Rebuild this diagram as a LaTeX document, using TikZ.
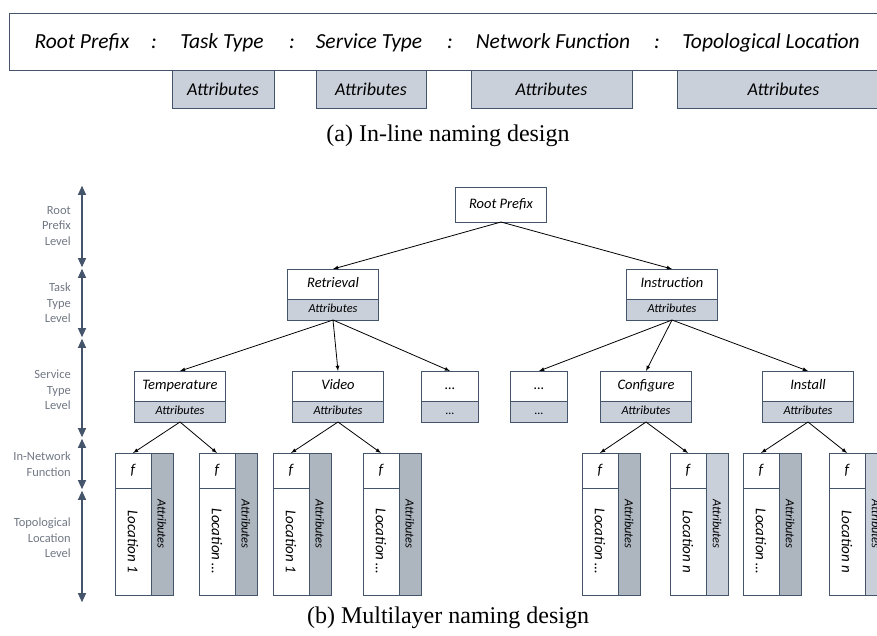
\documentclass[tikz,border=0pt]{standalone}
\usepackage{fontspec}
\usepackage{graphicx}
\setmainfont{Liberation Serif}
\newfontfamily\calfont{Carlito}
\usepackage{tikz}
\usetikzlibrary{arrows,arrows.meta,positioning}

\definecolor{edge}{RGB}{68,84,106}
\definecolor{attrlight}{RGB}{201,208,218}
\definecolor{attrdark}{RGB}{173,181,191}
\definecolor{levelgray}{RGB}{112,120,132}

\begin{document}
\begin{tikzpicture}[x=1pt, y=-1pt]
			\tikzstyle{Box}		= [draw=edge, fill=white, line width=1pt, inner sep=0pt, outer sep=0pt]
			\tikzstyle{Field}	= [inner sep=0pt, text height=14pt, text depth=4pt, font=\calfont\itshape\fontsize{21.5}{25}\selectfont]
			\tikzstyle{TopAttr}	= [Box, fill=attrlight, anchor=north west, minimum height=38, font=\calfont\itshape\fontsize{18}{21}\selectfont]
			\tikzstyle{Name}	= [Box, minimum width=91, minimum height=30, text height=10pt, text depth=3pt, font=\calfont\itshape\fontsize{14.5}{17}\selectfont]
			\tikzstyle{Attr}	= [Box, fill=attrlight, minimum width=91, minimum height=21, text height=8pt, text depth=2.5pt, font=\calfont\itshape\fontsize{12.3}{14}\selectfont]
			\tikzstyle{Fbox}	= [Box, minimum width=36, minimum height=35, font=\calfont\itshape\fontsize{15}{17}\selectfont]
			\tikzstyle{Loc}		= [Box, minimum width=36, minimum height=107, font=\calfont\itshape\fontsize{15}{17}\selectfont]
			\tikzstyle{Strip}	= [Box, minimum width=22, minimum height=142, font=\calfont\itshape\fontsize{12.4}{14}\selectfont]
			\tikzstyle{Link}	= [-latex, line width=0.8pt, black]
			\tikzstyle{Axis}	= [{Triangle[length=9pt,width=8pt]}-{Triangle[length=9pt,width=8pt]}, line width=1.1pt, edge]
			\tikzstyle{Level}	= [anchor=east, align=right, inner sep=0pt, text=levelgray, font=\calfont\fontsize{12.5}{15.5}\selectfont]
			\tikzstyle{Caption}	= [inner sep=0pt, font=\fontsize{24}{28}\selectfont]

			\useasboundingbox (0,0) rectangle (877,635);

			% (a) in-line name
			\node (inline) at (9,13) [Box, anchor=north west, minimum width=885, minimum height=57] {};
			\foreach \x/\t in {82/Root Prefix, 222/Task Type, 369/Service Type, 553/Network Function, 771/Topological Location}
				\node (fld\x) at (\x,43) [Field] {\t};
			\foreach \x in {154, 292, 450, 657}
				\node (col\x) at (\x,43) [Field] {:};
			\foreach \l/\r [count=\i] in {172/274, 316/426, 471/632, 677/890}
				\node (ia\i) at (\l,70) [TopAttr, minimum width=\r-\l] {Attributes};
			\node (capa) at (448,136) [Caption] {(a) In-line naming design};

			% (b) levels
			\foreach \i/\y in {0/185, 1/268, 2/338, 3/438, 4/490, 5/603}
				\coordinate (lv\i) at (82,\y);
			\foreach \a/\b in {0/1, 1/2, 2/3, 3/4, 4/5}
				\draw [Axis, shorten <=0.8pt, shorten >=0.8pt] (lv\a) -- (lv\b);
			\foreach \y/\t in {226/Root\\Prefix\\Level, 303/Task\\Type\\Level, 390/Service\\Type\\Level, 464/In-Network\\Function, 538/Topological\\Location\\Level}
				\node (lab\y) at (71,\y) [Level] {\t};

			% (b) tree
			\node (root) at (501,187) [Box, anchor=north, minimum width=91, minimum height=35, font=\calfont\itshape\fontsize{14.5}{17}\selectfont] {Root Prefix};
			\foreach \n/\x/\t in {ret/333/Retrieval, ins/672/Instruction} {
				\node (\n) at (\x,269) [Name, anchor=north] {\t};
				\node (a\n) [Attr, below=0pt of \n] {Attributes};
			}
			\foreach \n/\x/\w/\t/\s in {tem/180/91/Temperature/Attributes, vid/338/91/Video/Attributes, dta/450/57/\dots/\dots, dtb/539/57/\dots/\dots, con/646/91/Configure/Attributes, inst/808/91/Install/Attributes} {
				\node (\n) at (\x,371) [Name, anchor=north, minimum width=\w] {\t};
				\node (a\n) [Attr, below=0pt of \n, minimum width=\w] {\s};
			}
			\foreach \x/\t/\c [count=\i] in {115/1/attrdark, 199/\dots/attrdark, 273/1/attrdark, 363/\dots/attrdark, 582/\dots/attrdark, 670/n/attrlight, 743/\dots/attrdark, 829/n/attrlight} {
				\node (f\i) at (\x,453) [Fbox, anchor=north west] {f};
				\node (loc\i) [Loc, below=0pt of f\i] {\rotatebox{-90}{Location \t}};
				\node (at\i) at (f\i.north east) [Strip, fill=\c, anchor=north west] {\rotatebox{-90}{Attributes}};
			}

			\foreach \a/\b in {root/ret, root/ins}
				\draw [Link] (\a.south) -- (\b.north);
			\foreach \a/\b in {aret/tem, aret/vid, aret/dta, ains/dtb, ains/con, ains/inst}
				\draw [Link] (\a.south) -- (\b.north);
			\foreach \a/\b in {atem/f1, atem/f2, avid/f3, avid/f4, acon/f5, acon/f6, ainst/f7, ainst/f8}
				\draw [Link] (\a.south) -- (\b.north);

			\node (capb) at (448,618) [Caption] {(b) Multilayer naming design};
		\end{tikzpicture}
\end{document}
